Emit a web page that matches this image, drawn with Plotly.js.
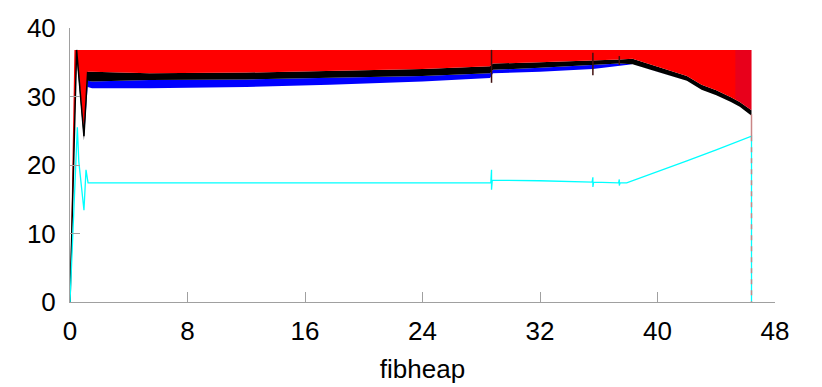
<!DOCTYPE html>
<html>
<head>
<meta charset="utf-8">
<script src="https://cdn.plot.ly/plotly-3.0.1.min.js"></script>
<style>
  html, body { margin: 0; padding: 0; background: #fff; }
  #fibPlot { width: 822px; height: 387px; }
</style>
</head>
<body>
<div id="fibPlot"></div>
<script>
// band of the dense series (red on top, black middle, blue below)
let bandX     = [0, 0.3, 0.45, 0.95, 1.2, 1.5, 5.4, 12, 17.7, 24, 28.6, 28.8, 32, 35.6, 37.4, 38.3, 40, 42, 43, 44, 45, 45.6, 46.4];
let redHigh   = [0, 36.8, 36.8, 36.8, 36.8, 36.8, 36.8, 36.8, 36.8, 36.8, 36.8, 36.8, 36.8, 36.8, 36.8, 36.8, 36.8, 36.8, 36.8, 36.8, 36.8, 36.8, 36.8];
let blackHigh = [0, 25.5, 36.8, 25.0, 33.6, 33.6, 33.4, 33.5, 33.7, 34.0, 34.4, 34.8, 35.0, 35.2, 35.4, 35.5, 34.4, 33.0, 31.7, 30.9, 29.9, 29.2, 28.0];
let blackLow  = [0, 24.0, 36.0, 23.6, 32.3, 32.2, 32.4, 32.5, 32.7, 33.0, 33.4, 33.9, 34.2, 34.6, 34.8, 34.7, 33.6, 32.3, 31.0, 30.2, 29.2, 28.5, 27.2];
let blueLow   = [0, 24.0, 36.0, 23.6, 31.4, 31.2, 31.2, 31.4, 31.7, 32.2, 32.7, 33.4, 33.6, 34.0, 34.4, 34.7, 33.6, 32.3, 31.0, 30.2, 29.2, 28.5, 27.2];

// blue strokes showing through the red near the end
let tailX    = [45.3, 45.6, 46.0, 46.4];
let tailLow  = [29.7, 29.2, 28.6, 28.0];
let tailHigh = [36.8, 36.8, 36.8, 36.8];

// the black climb at the start
let startX = [0, 0.45, 0.95, 1.2];
let startY = [0, 36.8, 24.2, 33.6];

// vertical spikes in the black series
let spikeX = [28.7, 28.7, null, 35.6, 35.6, null, 37.4, 37.4];
let spikeY = [36.8, 32.0, null, 36.4, 33.1, null, 35.9, 34.6];

// cyan series
let cyanX = [0, 0.5, 0.6, 0.7, 0.95, 1.09, 1.23, 8, 16, 24, 28.65, 28.7, 28.7, 28.75, 32, 35.55, 35.6, 35.6, 35.65, 37.35, 37.4, 37.4, 37.45, 37.9, 40, 42, 44, 46.4, 46.4];
let cyanY = [0, 25.5, 20.5, 18.5, 13.4, 19.3, 17.4, 17.4, 17.4, 17.4, 17.4, 19.3, 16.4, 17.8, 17.7, 17.5, 18.2, 16.8, 17.5, 17.4, 17.9, 17.0, 17.4, 17.4, 19.0, 20.6, 22.2, 24.2, 0];

// drop of the red/black series at the end
let dropX = [46.4, 46.4, null, 46.4, 46.4];
let dropY = [27.4, 24.2, null, 24.2, 0];

let xTicks = [0, 8, 16, 24, 32, 40, 48];
let yTicks = [0, 10, 20, 30, 40];

function band(x, y, fillcolor) {
  return {
    x: x, y: y, type: "scatter", mode: "lines",
    line: {width: 0}, fill: fillcolor ? "tonexty" : "none",
    fillcolor: fillcolor, hoverinfo: "skip", showlegend: false
  };
}

var data = [
  band(bandX, blueLow, null),
  band(bandX, blackLow, "blue"),
  band(bandX, blackHigh, "black"),
  band(bandX, redHigh, "red"),
  band(tailX, tailLow, null),
  band(tailX, tailHigh, "rgba(90,0,190,0.14)"),
  {x: startX, y: startY, mode: "lines", line: {color: "black", width: 1.5}, showlegend: false},
  {x: spikeX, y: spikeY, mode: "lines", line: {color: "#401010", width: 1.5}, showlegend: false},
  {x: cyanX, y: cyanY, mode: "lines", line: {color: "cyan", width: 1.3}, showlegend: false},
  {x: dropX.slice(0, 2), y: dropY.slice(0, 2), mode: "lines", line: {color: "#c98686", width: 1.5}, showlegend: false},
  {x: dropX.slice(3), y: dropY.slice(3), mode: "lines", line: {color: "#c98686", width: 1.5, dash: "5px,6px"}, showlegend: false}
];

var axisFont = {family: "Liberation Sans, Arial, sans-serif", size: 26, color: "black"};

var layout = {
  width: 822, height: 387,
  paper_bgcolor: "white", plot_bgcolor: "white",
  showlegend: false,
  margin: {l: 70, r: 47, t: 28, b: 85, pad: 0},
  xaxis: {
    range: [0, 48], tickvals: xTicks, ticks: "inside", ticklen: 10, tickcolor: "#a0a0a0",
    showline: true, linecolor: "#a0a0a0", linewidth: 1, showgrid: false, zeroline: false,
    tickfont: axisFont, ticklabelstandoff: 6,
    title: {text: "fibheap", font: axisFont, standoff: 14}
  },
  yaxis: {
    range: [0, 40], tickvals: yTicks, ticks: "inside", ticklen: 10, tickcolor: "#a0a0a0",
    showline: true, linecolor: "#a0a0a0", linewidth: 1, showgrid: false, zeroline: false,
    tickfont: axisFont, ticklabelstandoff: 8
  }
};

Plotly.newPlot("fibPlot", data, layout, {staticPlot: true});
</script>
</body>
</html>
